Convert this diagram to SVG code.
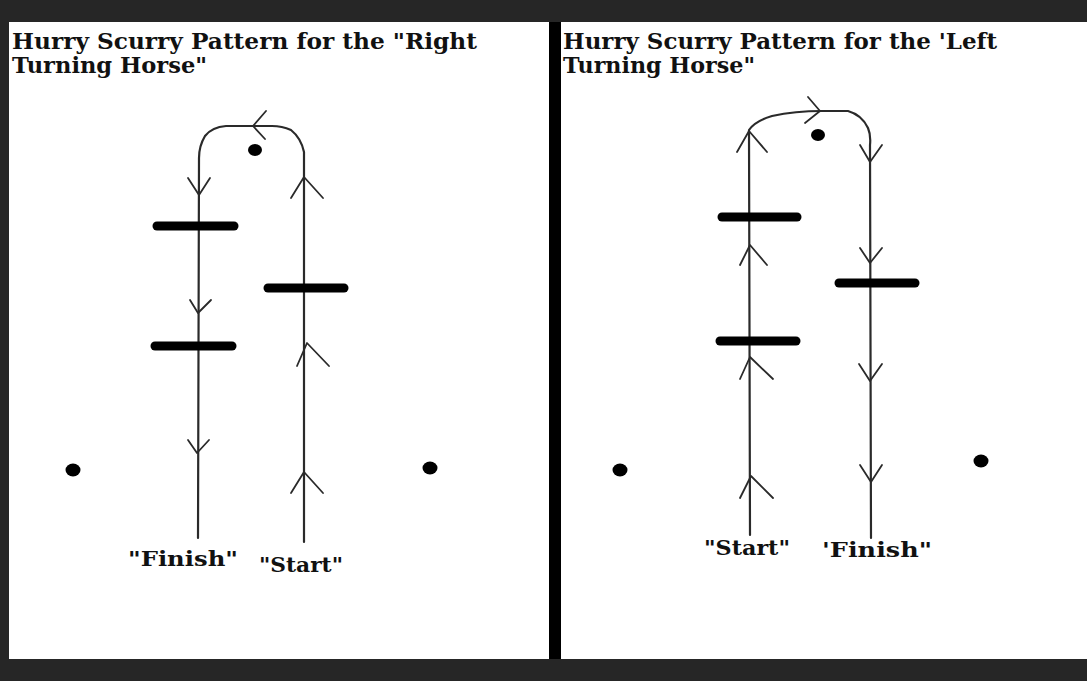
<svg xmlns="http://www.w3.org/2000/svg" width="1087" height="681" viewBox="0 0 1087 681">
<style>
.title{font-family:"DejaVu Serif","Liberation Serif",serif;font-weight:bold;font-size:22px;fill:#111}
.lbl{font-family:"DejaVu Serif","Liberation Serif",serif;font-weight:bold;font-size:20px;fill:#111}
.ln{fill:none;stroke:#2a2a2a;stroke-width:2.2;stroke-linejoin:round;stroke-linecap:round}
.ar{fill:none;stroke:#2a2a2a;stroke-width:1.8;stroke-linejoin:round;stroke-linecap:round}
.bar{stroke:#000;stroke-width:9;stroke-linecap:round}
.dot{fill:#000}
</style>
<rect x="0" y="0" width="1087" height="681" fill="#262626"/>
<rect x="9" y="22" width="540" height="637" fill="#fff"/>
<rect x="561" y="22" width="526" height="637" fill="#fff"/>
<rect x="549" y="22" width="12" height="637" fill="#000"/>

<g id="left-panel">
<text class="title" x="12" y="49" textLength="465" lengthAdjust="spacingAndGlyphs">Hurry Scurry Pattern for the "Right</text>
<text class="title" x="12" y="73" textLength="195" lengthAdjust="spacingAndGlyphs">Turning Horse"</text>
</g>

<g id="right-panel">
<text class="title" x="563" y="49" textLength="434" lengthAdjust="spacingAndGlyphs">Hurry Scurry Pattern for the 'Left</text>
<text class="title" x="563" y="73" textLength="192" lengthAdjust="spacingAndGlyphs">Turning Horse"</text>
</g>

<g id="connectors">
<path class="ln" d="M304,542 L304,162 L304,152 Q301,138 291,130 Q282,126 272,126 L226,126 Q212,127 205,136 Q199,146 199,158 L198,538"/>
<path class="ar" d="M266,111 L253,126 L265,139"/>
<path class="ar" d="M188,178 L199,195 L210,178"/>
<path class="ar" d="M190,300 L198,313 L211,300"/>
<path class="ar" d="M188,440 L197,453 L209,440"/>
<path class="ar" d="M291,198 L304,177 L323,198"/>
<path class="ar" d="M297,366 L307,343 L329,366"/>
<path class="ar" d="M291,493 L304,472 L323,493"/>
<path class="ln" d="M750,535 L749,130 Q755,121 772,116 Q795,111 822,111 L848,111 Q862,115 868,128 Q871,135 870,145 L871,538"/>
<path class="ar" d="M808,97 L820,111 L805,123"/>
<path class="ar" d="M737,152 L749,131 L767,152"/>
<path class="ar" d="M740,265 L750,245 L767,265"/>
<path class="ar" d="M740,379 L750,357 L773,379"/>
<path class="ar" d="M740,498 L751,476 L773,498"/>
<path class="ar" d="M860,145 L870,162 L882,145"/>
<path class="ar" d="M860,248 L870,263 L882,248"/>
<path class="ar" d="M859,364 L870,381 L882,364"/>
<path class="ar" d="M860,465 L871,482 L882,465"/>
</g>

<g id="left-bars">
<line class="bar" x1="157" y1="226" x2="234" y2="226"/>
<line class="bar" x1="155" y1="346" x2="232" y2="346"/>
<line class="bar" x1="268" y1="288" x2="344" y2="288"/>
</g>
<g id="right-bars">
<line class="bar" x1="722" y1="217" x2="797" y2="217"/>
<line class="bar" x1="720" y1="341" x2="796" y2="341"/>
<line class="bar" x1="839" y1="283" x2="915" y2="283"/>
</g>

<g id="cones">
<ellipse class="dot" cx="255" cy="150" rx="7" ry="6"/>
<ellipse class="dot" cx="73" cy="470" rx="7.5" ry="6.5"/>
<ellipse class="dot" cx="430" cy="468" rx="7.5" ry="6.5"/>
<ellipse class="dot" cx="818" cy="135" rx="7" ry="6"/>
<ellipse class="dot" cx="620" cy="470" rx="7.5" ry="6.5"/>
<ellipse class="dot" cx="981" cy="461" rx="7.5" ry="6.5"/>
</g>

<g id="labels">
<text class="lbl" x="128" y="566" textLength="110" lengthAdjust="spacingAndGlyphs">"Finish"</text>
<text class="lbl" x="259" y="572" textLength="84" lengthAdjust="spacingAndGlyphs">"Start"</text>
<text class="lbl" x="704" y="555" textLength="86" lengthAdjust="spacingAndGlyphs">"Start"</text>
<text class="lbl" x="822" y="557" textLength="110" lengthAdjust="spacingAndGlyphs">'Finish"</text>
</g>
</svg>
